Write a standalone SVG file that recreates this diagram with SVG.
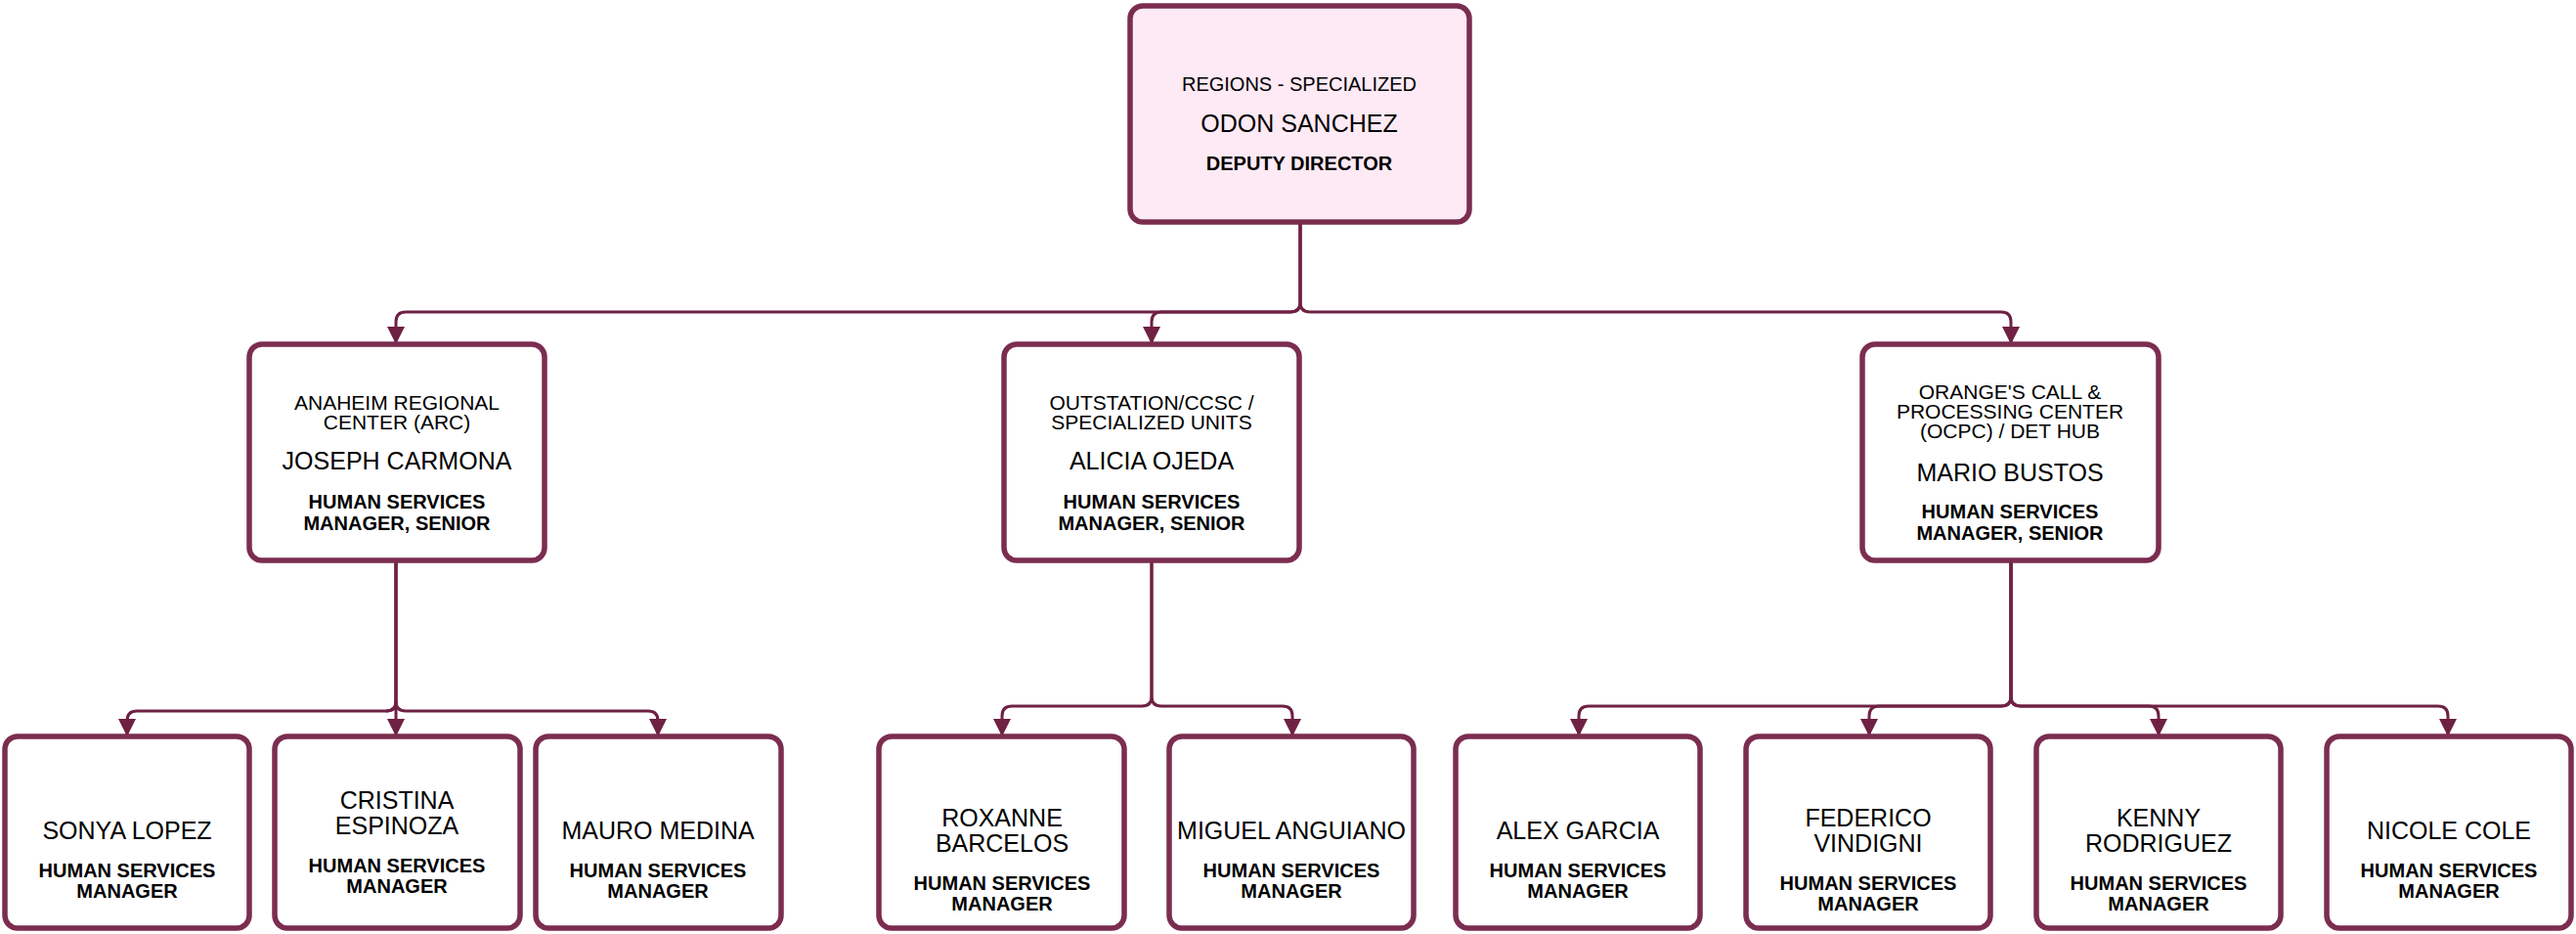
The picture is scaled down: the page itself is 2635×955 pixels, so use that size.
<svg xmlns="http://www.w3.org/2000/svg" width="2635" height="955" viewBox="0 0 2635 955">
<defs>
<style>
.box{fill:#ffffff;stroke:#7b2d50;stroke-width:5.5}
.top{fill:#fdeaf5}
.t{font-family:"Liberation Sans",Arial,sans-serif;fill:#000;text-anchor:middle}
.d{font-size:20px}
.d2{font-size:21px}
.n{font-size:25px}
.r{font-size:20px;font-weight:bold}
.c{fill:none;stroke:#6f2143;stroke-width:3}
</style>
<marker id="ah" markerUnits="userSpaceOnUse" markerWidth="18" markerHeight="18" refX="18" refY="9" orient="auto" viewBox="0 0 18 18">
<path d="M0,0 L18,9 L0,18 z" fill="#6f2143"/>
</marker>
</defs>
<rect width="2635" height="955" fill="#ffffff"/>
<g id="connectors">
<path class="c" marker-end="url(#ah)" d="M1330,227 V309 Q1330,319 1320,319 H415 Q405,319 405,329 V352"/>
<path class="c" marker-end="url(#ah)" d="M1330,227 V309 Q1330,319 1320,319 H1188 Q1178,319 1178,329 V352"/>
<path class="c" marker-end="url(#ah)" d="M1330,227 V309 Q1330,319 1340,319 H2047 Q2057,319 2057,329 V352"/>
<path class="c" marker-end="url(#ah)" d="M405,573 V717 Q405,727 395,727 H140 Q130,727 130,737 V753"/>
<path class="c" marker-end="url(#ah)" d="M405,573 V753"/>
<path class="c" d="M405,717 Q405,727 395,727"/>
<path class="c" marker-end="url(#ah)" d="M405,573 V717 Q405,727 415,727 H663 Q673,727 673,737 V753"/>
<path class="c" marker-end="url(#ah)" d="M1178,573 V712 Q1178,722 1168,722 H1035 Q1025,722 1025,732 V753"/>
<path class="c" marker-end="url(#ah)" d="M1178,573 V712 Q1178,722 1188,722 H1312 Q1322,722 1322,732 V753"/>
<path class="c" marker-end="url(#ah)" d="M2057,573 V712 Q2057,722 2047,722 H1625 Q1615,722 1615,732 V753"/>
<path class="c" marker-end="url(#ah)" d="M2057,573 V712 Q2057,722 2047,722 H1922 Q1912,722 1912,732 V753"/>
<path class="c" marker-end="url(#ah)" d="M2057,573 V712 Q2057,722 2067,722 H2198 Q2208,722 2208,732 V753"/>
<path class="c" marker-end="url(#ah)" d="M2057,573 V712 Q2057,722 2067,722 H2494 Q2504,722 2504,732 V753"/>
</g>
<g id="n-odon">
<rect class="box top" x="1156" y="6" width="347" height="221" rx="13"/>
<text class="t d" x="1329" y="93">REGIONS - SPECIALIZED</text>
<text class="t n" x="1329" y="135">ODON SANCHEZ</text>
<text class="t r" x="1329" y="174">DEPUTY DIRECTOR</text>
</g>
<g id="n-joseph">
<rect class="box" x="255" y="352" width="302" height="221" rx="13"/>
<text class="t d2" x="406" y="419">ANAHEIM REGIONAL</text>
<text class="t d2" x="406" y="439">CENTER (ARC)</text>
<text class="t n" x="406" y="480">JOSEPH CARMONA</text>
<text class="t r" x="406" y="520">HUMAN SERVICES</text>
<text class="t r" x="406" y="542">MANAGER, SENIOR</text>
</g>
<g id="n-alicia">
<rect class="box" x="1027" y="352" width="302" height="221" rx="13"/>
<text class="t d2" x="1178" y="419">OUTSTATION/CCSC /</text>
<text class="t d2" x="1178" y="439">SPECIALIZED UNITS</text>
<text class="t n" x="1178" y="480">ALICIA OJEDA</text>
<text class="t r" x="1178" y="520">HUMAN SERVICES</text>
<text class="t r" x="1178" y="542">MANAGER, SENIOR</text>
</g>
<g id="n-mario">
<rect class="box" x="1905" y="352" width="303" height="221" rx="13"/>
<text class="t d2" x="2056" y="408">ORANGE'S CALL &amp;</text>
<text class="t d2" x="2056" y="428">PROCESSING CENTER</text>
<text class="t d2" x="2056" y="448">(OCPC) / DET HUB</text>
<text class="t n" x="2056" y="492">MARIO BUSTOS</text>
<text class="t r" x="2056" y="530">HUMAN SERVICES</text>
<text class="t r" x="2056" y="552">MANAGER, SENIOR</text>
</g>
<g id="n-sonya">
<rect class="box" x="5" y="753" width="250" height="196" rx="13"/>
<text class="t n" x="130" y="858">SONYA LOPEZ</text>
<text class="t r" x="130" y="897">HUMAN SERVICES</text>
<text class="t r" x="130" y="918">MANAGER</text>
</g>
<g id="n-cristina">
<rect class="box" x="281" y="753" width="251" height="196" rx="13"/>
<text class="t n" x="406" y="827">CRISTINA</text>
<text class="t n" x="406" y="853">ESPINOZA</text>
<text class="t r" x="406" y="892">HUMAN SERVICES</text>
<text class="t r" x="406" y="913">MANAGER</text>
</g>
<g id="n-mauro">
<rect class="box" x="548" y="753" width="251" height="196" rx="13"/>
<text class="t n" x="673" y="858">MAURO MEDINA</text>
<text class="t r" x="673" y="897">HUMAN SERVICES</text>
<text class="t r" x="673" y="918">MANAGER</text>
</g>
<g id="n-roxanne">
<rect class="box" x="899" y="753" width="251" height="196" rx="13"/>
<text class="t n" x="1025" y="845">ROXANNE</text>
<text class="t n" x="1025" y="871">BARCELOS</text>
<text class="t r" x="1025" y="910">HUMAN SERVICES</text>
<text class="t r" x="1025" y="931">MANAGER</text>
</g>
<g id="n-miguel">
<rect class="box" x="1196" y="753" width="250" height="196" rx="13"/>
<text class="t n" x="1321" y="858">MIGUEL ANGUIANO</text>
<text class="t r" x="1321" y="897">HUMAN SERVICES</text>
<text class="t r" x="1321" y="918">MANAGER</text>
</g>
<g id="n-alex">
<rect class="box" x="1489" y="753" width="250" height="196" rx="13"/>
<text class="t n" x="1614" y="858">ALEX GARCIA</text>
<text class="t r" x="1614" y="897">HUMAN SERVICES</text>
<text class="t r" x="1614" y="918">MANAGER</text>
</g>
<g id="n-federico">
<rect class="box" x="1786" y="753" width="250" height="196" rx="13"/>
<text class="t n" x="1911" y="845">FEDERICO</text>
<text class="t n" x="1911" y="871">VINDIGNI</text>
<text class="t r" x="1911" y="910">HUMAN SERVICES</text>
<text class="t r" x="1911" y="931">MANAGER</text>
</g>
<g id="n-kenny">
<rect class="box" x="2083" y="753" width="250" height="196" rx="13"/>
<text class="t n" x="2208" y="845">KENNY</text>
<text class="t n" x="2208" y="871">RODRIGUEZ</text>
<text class="t r" x="2208" y="910">HUMAN SERVICES</text>
<text class="t r" x="2208" y="931">MANAGER</text>
</g>
<g id="n-nicole">
<rect class="box" x="2380" y="753" width="250" height="196" rx="13"/>
<text class="t n" x="2505" y="858">NICOLE COLE</text>
<text class="t r" x="2505" y="897">HUMAN SERVICES</text>
<text class="t r" x="2505" y="918">MANAGER</text>
</g>
</svg>
